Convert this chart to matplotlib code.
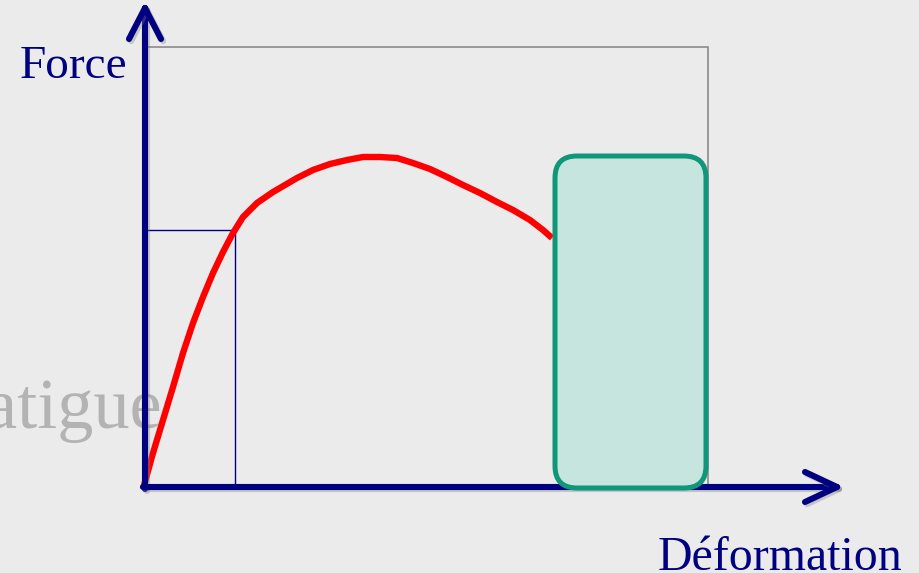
import matplotlib.pyplot as plt
import matplotlib.patheffects as pe
from matplotlib.patches import Rectangle, FancyBboxPatch

# schematic force / deformation curve (arbitrary units, origin at 0,0)
deformation = [-2, 8, 18, 28, 38, 48, 58, 68, 78, 88, 98, 112, 128, 152, 168, 185,
               202, 218, 235, 252, 268, 285, 302, 318, 335, 352, 368, 385, 398, 407]
force = [-3, 33, 66, 99, 133, 163, 189, 213, 234, 253, 269, 283, 294, 308, 316, 322,
         326, 329, 329, 328, 323, 317, 309, 301, 293, 284, 276, 266, 256, 248]

# elastic limit marker and highlighted rupture zone
elastic_limit = (90, 256)
frame = (563, 439)
zone_x = [410, 561]
zone_y = [-2, 330]

NAVY = '#000080'
BG = '#EBEBEB'


def draw_arrow(ax, x0, y0, x1, y1, head=31, half=16):
    shadow = [pe.SimpleLineShadow(offset=(1.5, -1.5), shadow_color='gray', alpha=0.35), pe.Normal()]
    ax.plot([x0, x1], [y0, y1], color=NAVY, lw=4.4, solid_capstyle='round',
            zorder=6, path_effects=shadow)
    if x1 == x0:
        wings = [(x1 - half, y1 - head), (x1 + half, y1 - head)]
    else:
        wings = [(x1 - head, y1 + half), (x1 - head, y1 - half)]
    for wx, wy in wings:
        ax.plot([wx, x1], [wy, y1], color=NAVY, lw=4.4, solid_capstyle='round',
                zorder=6, path_effects=shadow)


fig = plt.figure(figsize=(9.2, 5.73), dpi=100)
fig.patch.set_facecolor(BG)
ax = fig.add_axes([0, 0, 1, 1])
ax.set_facecolor(BG)
ax.set_xlim(-145, 775)
ax.set_ylim(-87, 486)
ax.axis('off')

serif = ['Liberation Serif', 'DejaVu Serif']

# partly hidden label behind the chart
ax.text(18, 58, 'Fatigue', family=serif, fontsize=52, color='#B3B3B3',
        ha='right', va='baseline', zorder=1)

# gray frame and elastic-limit box
ax.add_patch(Rectangle((0, 0), frame[0], frame[1], fill=False, ec='#8C8C8C', lw=1.2, zorder=2))
ax.add_patch(Rectangle((0, 0), elastic_limit[0], elastic_limit[1], fill=False, ec=NAVY, lw=1.0, zorder=3))

# curve
ax.plot(deformation, force, color='red', lw=4.6, solid_capstyle='butt',
        solid_joinstyle='round', zorder=4)

# axes arrows
draw_arrow(ax, 0, -3, 0, 478, head=31, half=16)
draw_arrow(ax, -2, -1, 692, -1, head=32, half=15)

# rupture zone
r = 22
ax.add_patch(FancyBboxPatch((zone_x[0] + r, zone_y[0] + r),
                            zone_x[1] - zone_x[0] - 2 * r, zone_y[1] - zone_y[0] - 2 * r,
                            boxstyle=f'round,pad={r}', fc='#C6E5DE', ec='#10977A', lw=3.6, zorder=7))

ax.text(-125, 408, 'Force', family=serif, fontsize=34, color=NAVY, ha='left', va='baseline')
ax.text(513, -84, 'Déformation', family=serif, fontsize=34.5, color=NAVY, ha='left', va='baseline')

fig.savefig('out.png', dpi=100, facecolor=BG)
